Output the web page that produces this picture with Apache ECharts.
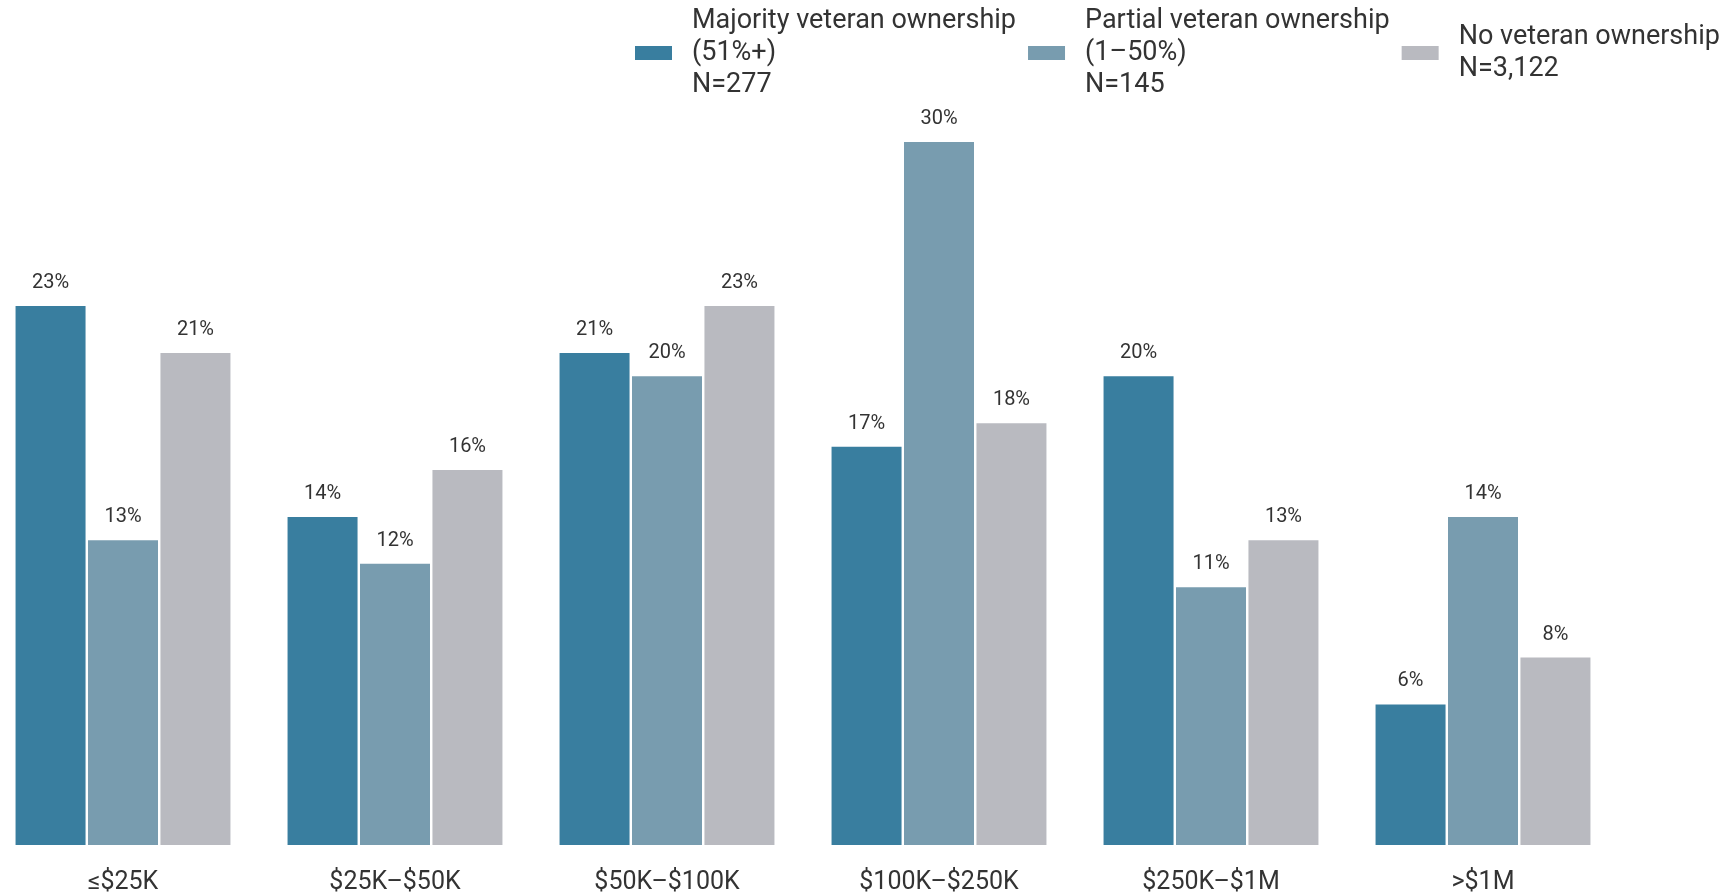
<!DOCTYPE html>
<html>
<head>
<meta charset="utf-8">
<script src="https://cdn.jsdelivr.net/npm/echarts@6/dist/echarts.min.js"></script>
<style>
html,body{margin:0;padding:0;background:#fff;}
#chart{width:1727px;height:893px;}
</style>
</head>
<body>
<div id="chart"></div>
<script>
const categories = ['≤$25K', '$25K–$50K', '$50K–$100K', '$100K–$250K', '$250K–$1M', '>$1M'];
const seriesNames = ['Majority veteran ownership\n(51%+)\nN=277', 'Partial veteran ownership\n(1–50%)\nN=145', 'No veteran ownership\nN=3,122'];
const majority = [23, 14, 21, 17, 20, 6];
const partial = [13, 12, 20, 30, 11, 14];
const noVeteran = [21, 16, 23, 18, 13, 8];
const colors = ['#397E9F', '#789CAF', '#B9BAC0'];

const chart = echarts.init(document.getElementById('chart'));
const labelCfg = {
  show: true, position: 'top', distance: 13,
  formatter: '{c}%', fontFamily: 'Roboto', fontSize: 20, color: '#333'
};
function mk(name, data, color) {
  return {
    name: name, type: 'bar', data: data, barWidth: 70, barGap: '3.5%',
    itemStyle: { color: color }, label: labelCfg
  };
}
chart.setOption({
  animation: false,
  textStyle: { fontFamily: 'Roboto' },
  legend: {
    left: 635, top: 5, padding: 0, itemGap: 12,
    itemWidth: 37, itemHeight: 14, icon: 'rect',
    textStyle: { fontFamily: 'Roboto', fontSize: 27, lineHeight: 32, color: '#333', padding: [0, 0, 0, 15] }
  },
  grid: { left: -13, right: 108, top: 142, bottom: 48, containLabel: false, outerBoundsMode: 'none' },
  xAxis: {
    type: 'category', data: categories,
    axisLine: { show: false }, axisTick: { show: false },
    axisLabel: { fontFamily: 'Roboto', fontSize: 25, color: '#333', margin: 25 }
  },
  yAxis: { type: 'value', min: 0, max: 30, show: false, splitLine: { show: false } },
  series: [
    mk(seriesNames[0], majority, colors[0]),
    mk(seriesNames[1], partial, colors[1]),
    mk(seriesNames[2], noVeteran, colors[2])
  ]
});
</script>
</body>
</html>
